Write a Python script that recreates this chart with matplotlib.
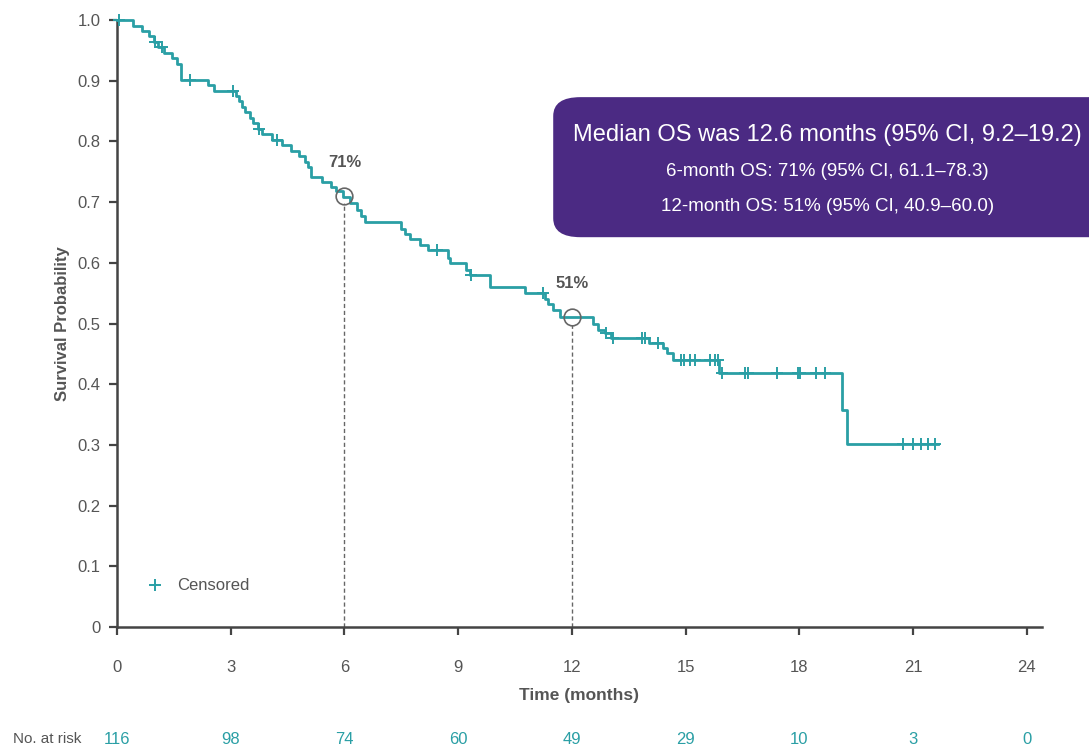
import numpy as np
import matplotlib.pyplot as plt
from matplotlib.patches import FancyBboxPatch

# Kaplan-Meier steps: time of each drop (months) and survival after it
step_times = [0.0, 0.42, 0.65, 0.85, 0.98, 1.08, 1.25, 1.45, 1.58, 1.68,
              2.4, 2.55, 3.15, 3.22, 3.3, 3.38, 3.5, 3.6, 3.72, 3.82,
              4.1, 4.35, 4.6, 4.8, 4.95, 5.05, 5.12, 5.4, 5.65, 5.79,
              5.97, 6.14, 6.32, 6.45, 6.54, 7.5, 7.6, 7.73, 7.99, 8.21,
              8.74, 8.78, 9.22, 9.31, 9.84, 10.76, 11.28, 11.36, 11.5, 11.68,
              12.55, 12.69, 12.87, 13.04, 14.03, 14.41, 14.5, 14.67, 15.87, 19.13,
              19.25]
step_surv = [1.0, 0.991, 0.982, 0.973, 0.964, 0.955, 0.946, 0.937, 0.928, 0.902,
             0.893, 0.884, 0.875, 0.866, 0.857, 0.848, 0.839, 0.830, 0.821, 0.812,
             0.803, 0.794, 0.785, 0.776, 0.767, 0.758, 0.742, 0.733, 0.725, 0.718,
             0.709, 0.698, 0.687, 0.677, 0.668, 0.656, 0.647, 0.639, 0.630, 0.621,
             0.608, 0.599, 0.589, 0.580, 0.561, 0.550, 0.540, 0.533, 0.522, 0.511,
             0.500, 0.489, 0.484, 0.477, 0.468, 0.459, 0.451, 0.440, 0.419, 0.358,
             0.302]
followup_end = 21.65

censor_times = [0.05, 1.0, 1.18, 1.93, 3.07, 3.75, 4.21, 8.43, 9.35, 11.24,
                12.91, 13.09, 13.84, 13.92, 14.28, 14.89, 14.95, 15.11, 15.24, 15.64,
                15.77, 15.85, 15.95, 16.56, 16.65, 17.4, 17.97, 18.01, 18.45, 18.67,
                20.74, 21.0, 21.22, 21.4, 21.57]

landmark_months = [6, 12]
landmark_surv = [0.71, 0.51]
landmark_labels = ["71%", "51%"]

risk_months = [0, 3, 6, 9, 12, 15, 18, 21, 24]
at_risk = [116, 98, 74, 60, 49, 29, 10, 3, 0]

y_ticks = [0, 0.1, 0.2, 0.3, 0.4, 0.5, 0.6, 0.7, 0.8, 0.9, 1.0]
y_tick_labels = ["0", "0.1", "0.2", "0.3", "0.4", "0.5", "0.6", "0.7", "0.8", "0.9", "1.0"]

summary_lines = [
    "Median OS was 12.6 months (95% CI, 9.2\u201319.2)",
    "6-month OS: 71% (95% CI, 61.1\u201378.3)",
    "12-month OS: 51% (95% CI, 40.9\u201360.0)",
]

TEAL = "#2a9fa5"
GREY = "#555555"
PURPLE = "#4b2a83"
FONT = ["Liberation Sans", "DejaVu Sans"]


def survival_at(t):
    """Look up the step value of the curve at time t."""
    idx = np.searchsorted(step_times, t, side="right") - 1
    return step_surv[idx]


def draw_curve(ax):
    times = list(step_times) + [followup_end]
    surv = list(step_surv) + [step_surv[-1]]
    ax.step(times, surv, where="post", color=TEAL, lw=2.0, clip_on=False, zorder=3)

    cens_y = [survival_at(t) for t in censor_times]
    ax.plot(censor_times, cens_y, ls="none", marker="+", ms=9, mew=1.4,
            color=TEAL, clip_on=False, zorder=4)

    # landmark circles with dashed drop lines
    for m, s, lab in zip(landmark_months, landmark_surv, landmark_labels):
        ax.plot([m], [s], marker="o", ms=12, mfc="none", mec="#666666", mew=1.2, zorder=5)
        ax.plot([m, m], [0, s - 0.012], ls=(0, (3, 2)), color="#666666", lw=1.0, zorder=2)
        ax.text(m, s + 0.043, lab, ha="center", va="bottom", fontsize=12,
                fontweight="bold", color=GREY, family=FONT)


def style_axes(ax):
    ax.set_xlim(0, 24.4)
    ax.set_ylim(0, 1.0)
    for side in ["top", "right"]:
        ax.spines[side].set_visible(False)
    for side in ["left", "bottom"]:
        ax.spines[side].set_color("#444444")
        ax.spines[side].set_linewidth(1.8)

    ax.set_xticks(risk_months)
    ax.set_xticklabels([str(m) for m in risk_months], family=FONT, fontsize=12, color=GREY)
    ax.set_yticks(y_ticks)
    ax.set_yticklabels(y_tick_labels, family=FONT, fontsize=12, color=GREY)
    ax.tick_params(axis="x", direction="out", length=6, width=1.6, color="#444444", pad=18)
    ax.tick_params(axis="y", direction="out", length=6, width=1.6, color="#444444", pad=6)

    ax.set_xlabel("Time (months)", family=FONT, fontsize=12.5, fontweight="bold",
                  color=GREY, labelpad=9)
    ax.set_ylabel("Survival Probability", family=FONT,
                  fontsize=12, fontweight="bold", color=GREY, labelpad=5)

    # legend for the censor mark
    ax.plot([1.0], [0.069], ls="none", marker="+", ms=9, mew=1.4, color=TEAL)
    ax.text(1.6, 0.069, "Censored", va="center", ha="left", family=FONT,
            fontsize=12, color=GREY)


def draw_risk_table(fig, ax):
    y = 0.018
    fig.text(0.0744, y, "No. at risk", ha="right", va="center", family=FONT,
             fontsize=11, color=GREY)
    for m, n in zip(risk_months, at_risk):
        x_fig = fig.transFigure.inverted().transform(ax.transData.transform((m, 0)))[0]
        fig.text(x_fig, y, str(n), ha="center", va="center", family=FONT,
                 fontsize=12, color=TEAL)


def draw_summary_box(fig):
    box = FancyBboxPatch((0.508, 0.685), 0.55, 0.186,
                         boxstyle="round,pad=0.0,rounding_size=0.025",
                         transform=fig.transFigure, facecolor=PURPLE,
                         edgecolor="none", zorder=10)
    fig.patches.append(box)
    fig.text(0.760, 0.821, summary_lines[0], ha="center", va="center", family=FONT,
             fontsize=17, color="white", zorder=11)
    fig.text(0.760, 0.772, summary_lines[1], ha="center", va="center", family=FONT,
             fontsize=13.5, color="white", zorder=11)
    fig.text(0.760, 0.726, summary_lines[2], ha="center", va="center", family=FONT,
             fontsize=13.5, color="white", zorder=11)


fig = plt.figure(figsize=(10.89, 7.53), dpi=100)
ax = fig.add_axes([0.1074, 0.1673, 0.8494, 0.806])
draw_curve(ax)
style_axes(ax)
draw_risk_table(fig, ax)
draw_summary_box(fig)
fig.savefig("out.png", dpi=100)
